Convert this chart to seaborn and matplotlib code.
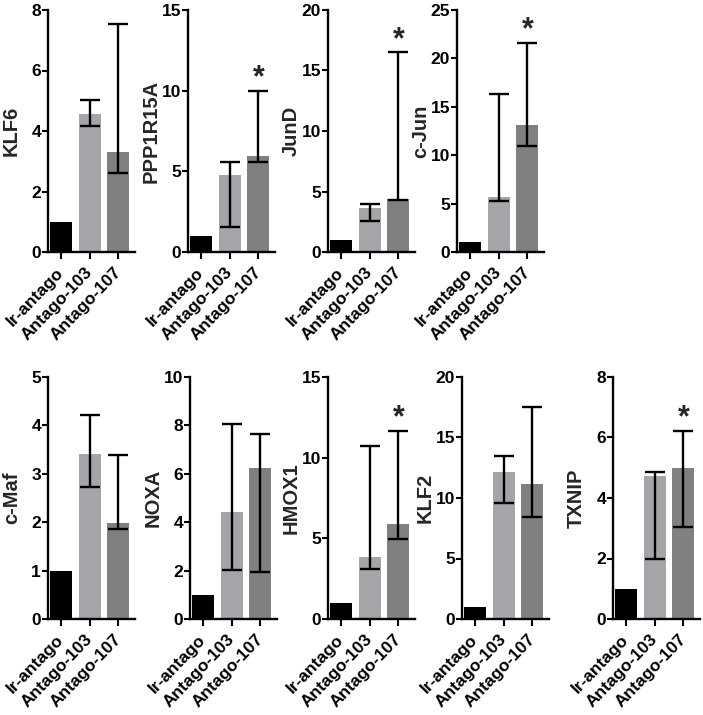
import numpy as np
import pandas as pd
import matplotlib
matplotlib.use("Agg")
import matplotlib.pyplot as plt
import seaborn as sns

# ---------------- data ----------------
groups = ["Ir-antago", "Antago-103", "Antago-107"]
genes = ["KLF6", "PPP1R15A", "JunD", "c-Jun", "c-Maf", "NOXA", "HMOX1", "KLF2", "TXNIP"]

means_klf6 = [1.0, 4.55, 3.30]
means_ppp1r15a = [1.0, 4.80, 5.95]
means_jund = [1.0, 3.60, 4.35]
means_cjun = [1.0, 5.70, 13.10]
means_cmaf = [1.0, 3.40, 1.98]
means_noxa = [1.0, 4.43, 6.26]
means_hmox1 = [1.0, 3.87, 5.91]
means_klf2 = [1.0, 12.15, 11.18]
means_txnip = [1.0, 4.74, 5.00]

# lower / upper ends of the error bars (Ir-antago has none)
low_klf6 = [None, 4.18, 2.60]
high_klf6 = [None, 5.04, 7.55]
low_ppp1r15a = [None, 1.57, 5.59]
high_ppp1r15a = [None, 5.55, 10.00]
low_jund = [None, 2.55, 4.30]
high_jund = [None, 4.00, 16.50]
low_cjun = [None, 5.24, 10.93]
high_cjun = [None, 16.34, 21.60]
low_cmaf = [None, 2.72, 1.86]
high_cmaf = [None, 4.21, 3.38]
low_noxa = [None, 2.02, 1.96]
high_noxa = [None, 8.05, 7.65]
low_hmox1 = [None, 3.13, 4.95]
high_hmox1 = [None, 10.75, 11.68]
low_klf2 = [None, 9.56, 8.41]
high_klf2 = [None, 13.43, 17.50]
low_txnip = [None, 1.98, 3.05]
high_txnip = [None, 4.86, 6.22]

ymax = [8, 15, 20, 25, 5, 10, 15, 20, 8]
ystep = [2, 5, 5, 5, 1, 2, 5, 5, 2]
star_107 = [False, True, True, True, False, False, True, False, True]

means = [means_klf6, means_ppp1r15a, means_jund, means_cjun, means_cmaf,
         means_noxa, means_hmox1, means_klf2, means_txnip]
lows = [low_klf6, low_ppp1r15a, low_jund, low_cjun, low_cmaf,
        low_noxa, low_hmox1, low_klf2, low_txnip]
highs = [high_klf6, high_ppp1r15a, high_jund, high_cjun, high_cmaf,
         high_noxa, high_hmox1, high_klf2, high_txnip]

colors = ["#000000", "#A4A4A9", "#808080"]

# ---------------- style ----------------
sns.set_style("ticks")
plt.rcParams["font.family"] = ["Liberation Sans", "DejaVu Sans"]
plt.rcParams["font.weight"] = "bold"
plt.rcParams["axes.labelweight"] = "bold"

W, H = 703, 715
fig = plt.figure(figsize=(W / 100, H / 100), dpi=100)

# panel placement (pixels): left, top, bottom
panel_px = [
    (48, 10, 252), (188, 10, 252), (328, 10, 252), (457, 10, 252),
    (48, 377, 619), (190, 377, 619), (328, 377, 619), (462, 377, 619), (613, 377, 619),
]
pw = 87

for i, gene in enumerate(genes):
    l, t, b = panel_px[i]
    ax = fig.add_axes([l / W, 1 - b / H, pw / W, (b - t) / H])
    df = pd.DataFrame({"group": groups, "value": means[i]})
    sns.barplot(data=df, x="group", y="value", hue="group", palette=colors,
                order=groups, hue_order=groups, width=0.77, saturation=1,
                legend=False, errorbar=None, ax=ax, edgecolor="none")
    # asymmetric error bars
    xs, ys, lo, hi = [], [], [], []
    for j in range(3):
        if lows[i][j] is None:
            continue
        xs.append(j)
        ys.append(means[i][j])
        lo.append(means[i][j] - lows[i][j])
        hi.append(highs[i][j] - means[i][j])
    ax.errorbar(xs, ys, yerr=[lo, hi], fmt="none", ecolor="black",
                elinewidth=1.7, capsize=7.5, capthick=1.7, zorder=5)
    if star_107[i]:
        ax.annotate("*", (2, highs[i][2]), xytext=(0, 3), textcoords="offset points",
                    ha="center", va="baseline", fontsize=22, fontweight="bold")

    ax.set_xlim(-0.46, 2.58)
    ax.set_ylim(0, ymax[i])
    ticks = np.arange(0, ymax[i] + 0.001, ystep[i])
    ax.set_yticks(ticks)
    ax.set_yticklabels([f"{int(v)}" for v in ticks], fontsize=12.5, fontweight="bold")
    ax.set_xticks([0, 1, 2])
    ax.set_xticklabels(groups, rotation=46, ha="right", va="center",
                       rotation_mode="anchor", fontsize=12.5, fontweight="bold")
    ax.set_xlabel("")
    ax.set_ylabel(gene, fontsize=14.5, fontweight="bold")
    ax.yaxis.set_label_coords(-0.31, 0.5)
    sns.despine(ax=ax)
    for s in ("left", "bottom"):
        ax.spines[s].set_linewidth(1.7)
        ax.spines[s].set_color("black")
    ax.tick_params(axis="y", length=4, width=1.5, pad=1, colors="black")
    ax.tick_params(axis="x", length=5, width=1.5, pad=8, colors="black")
    ax.set_facecolor("white")

fig.savefig("out.png", dpi=100, facecolor="white")
